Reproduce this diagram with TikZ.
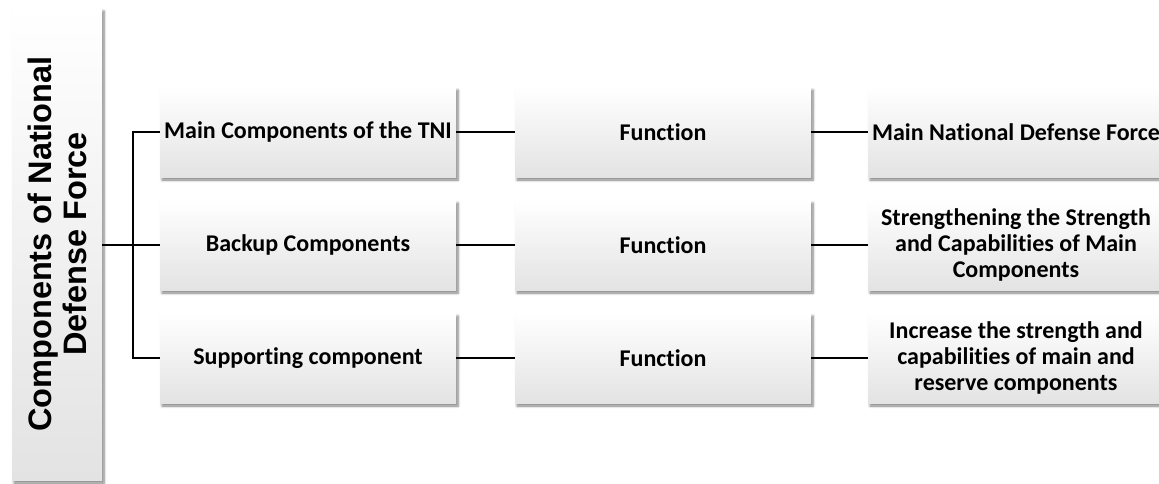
\documentclass[tikz,border=0pt]{standalone}
\usepackage{fontspec}
\setmainfont{Carlito}[Ligatures=NoCommon]
\newfontfamily\arialfont{Liberation Sans}
\usetikzlibrary{shadows.blur}
\tikzset{
  boxstyle/.style={rectangle, inner sep=0pt, top color=white, bottom color=black!11,
    blur shadow={shadow xshift=2pt, shadow yshift=-3pt, shadow blur radius=2.5pt, shadow blur steps=6, shadow opacity=50}},
  itembox/.style={boxstyle, minimum width=296pt, minimum height=90pt, align=center,
    font=\fontsize{24}{26}\selectfont\bfseries},
  conn/.style={draw=black, line width=2pt}
}
\begin{document}
\begin{tikzpicture}[x=1pt,y=-1pt]
\useasboundingbox (0,0) rectangle (1159,484);
\clip (0,0) rectangle (1159,484);
% root box
\node[boxstyle, minimum width=90pt, minimum height=472pt] (root) at (57,244) {};
\node[rotate=90, align=center, font=\arialfont\fontsize{32.5}{35}\selectfont\bfseries] (roottext) at (root.center) {Components of National\\Defense Force};
% column 1
\node[itembox] (a1) at (308,132) {Main Components of the TNI};
\node[itembox] (a2) at (308,245) {Backup Components};
\node[itembox] (a3) at (308,358) {Supporting component};
% column 2
\node[itembox] (b1) at (663,132) {Function};
\node[itembox] (b2) at (663,245) {Function};
\node[itembox] (b3) at (663,358) {Function};
% column 3
\node[itembox] (c1) at (1016,132) {Main National Defense Force};
\node[itembox] (c2) at (1016,245) {Strengthening the Strength\\and Capabilities of Main\\Components};
\node[itembox] (c3) at (1016,358) {Increase the strength and\\capabilities of main and\\reserve components};
% connectors
\coordinate (j) at (133,245);
\draw[conn] (root.east |- j) -- (j);
\draw[conn] (a1.west) -| (j) |- (a3.west);
\draw[conn] (j) -- (a2.west);
\foreach \r in {1,2,3}{
  \draw[conn] (a\r.east) -- (b\r.west);
  \draw[conn] (b\r.east) -- (c\r.west);
}
\end{tikzpicture}
\end{document}
